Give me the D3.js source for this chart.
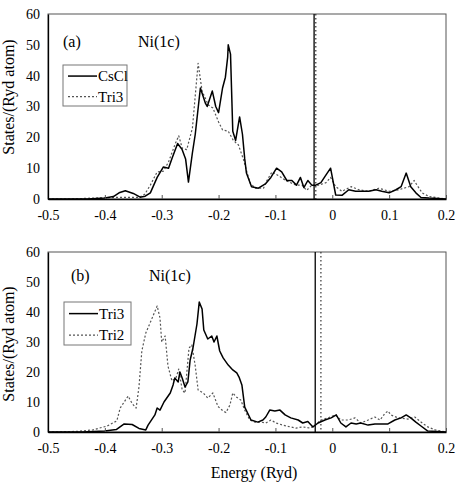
<!DOCTYPE html>
<html>
<head>
<meta charset="utf-8">
<script src="https://cdn.jsdelivr.net/npm/d3@7"></script>
<style>
  body { margin: 0; background: #fff; }
  svg text { font-family: "Liberation Serif", "Times New Roman", "DejaVu Serif", serif !important; fill: #000; }
</style>
</head>
<body>
<div id="chart-area"></div>
<script>
// tick labels
const energyTicks = [-0.5, -0.4, -0.3, -0.2, -0.1, 0, 0.1, 0.2]
const stateTicks = [0, 10, 20, 30, 40, 50, 60]

// (a) Ni(1c): [energy, states]
const csclA = [[-0.5,0],[-0.43,0],[-0.40,0.3],[-0.385,0.8],[-0.375,2],[-0.364,2.7],[-0.35,1.8],[-0.338,0.6],
  [-0.329,0.9],[-0.320,2],[-0.308,7],[-0.297,10.4],[-0.288,10],[-0.281,13.6],[-0.272,18],[-0.264,16],[-0.258,13],
  [-0.253,5.5],[-0.246,15],[-0.241,21],[-0.232,36],[-0.223,31],[-0.220,30],[-0.211,35],[-0.205,30],[-0.200,28],
  [-0.193,36],[-0.188,39.5],[-0.184,46],[-0.183,50],[-0.179,47],[-0.175,22],[-0.170,19],[-0.163,26.6],[-0.158,21],
  [-0.154,13],[-0.151,8.4],[-0.142,4],[-0.130,3.5],[-0.117,5],[-0.108,7],[-0.098,10],[-0.089,8.8],[-0.080,6],
  [-0.071,6],[-0.063,4.5],[-0.056,7],[-0.050,3.7],[-0.043,6],[-0.036,4.5],[-0.029,4.5],[-0.020,5.3],[-0.011,7.8],
  [-0.003,10],[0.006,1.3],[0.017,1.2],[0.029,3],[0.041,2.5],[0.052,2.5],[0.064,2.5],[0.077,3],[0.087,2.5],
  [0.100,2],[0.112,3],[0.121,4],[0.130,8.4],[0.138,4],[0.147,2],[0.156,0.5],[0.170,0.3],[0.2,0]]
const tri3A = [[-0.5,0],[-0.45,0.1],[-0.42,0.3],[-0.38,0.5],[-0.34,0.5],[-0.33,1.5],[-0.320,4.5],[-0.308,8.8],
  [-0.297,9],[-0.288,12],[-0.276,18],[-0.270,20.5],[-0.264,16.5],[-0.256,16],[-0.246,23],[-0.236,44],[-0.229,35],
  [-0.218,30.5],[-0.210,29.5],[-0.200,25],[-0.193,22.4],[-0.183,22],[-0.174,19],[-0.165,17.5],[-0.156,12.7],
  [-0.149,8],[-0.144,5],[-0.135,3.5],[-0.121,3.5],[-0.115,6],[-0.106,8.8],[-0.094,7.5],[-0.082,6],[-0.064,4.5],
  [-0.053,4.5],[-0.045,2.8],[-0.036,4.5],[-0.024,4.5],[-0.011,5.3],[-0.003,7],[0.006,4],[0.017,2.5],[0.033,4],
  [0.047,3],[0.064,2.5],[0.082,3.5],[0.100,2.5],[0.117,3],[0.135,4],[0.144,6],[0.149,4.5],[0.158,2],[0.170,0.8],[0.2,0]]

// (b) Ni(1c)
const tri3B = [[-0.5,0],[-0.44,0],[-0.40,0.3],[-0.38,0.8],[-0.366,2.7],[-0.352,2.5],[-0.340,1.2],[-0.328,0.7],
  [-0.324,2.3],[-0.312,5.7],[-0.308,8],[-0.303,7.3],[-0.296,10],[-0.285,13],[-0.280,15.7],[-0.277,18],[-0.271,16.7],
  [-0.268,20],[-0.264,18],[-0.259,15],[-0.254,16.7],[-0.250,24],[-0.245,28],[-0.238,36],[-0.234,43.3],[-0.229,41],
  [-0.226,34],[-0.219,31],[-0.212,32],[-0.208,30],[-0.203,32],[-0.198,27],[-0.192,24.7],[-0.183,22.3],[-0.175,20.7],
  [-0.168,19.7],[-0.164,18.3],[-0.159,15.7],[-0.154,8.3],[-0.143,4],[-0.131,3.3],[-0.122,4],[-0.117,5],[-0.110,7.3],
  [-0.101,7],[-0.092,7.3],[-0.083,5.7],[-0.073,4.7],[-0.060,4],[-0.052,3],[-0.043,3.5],[-0.034,1.7],[-0.025,3],
  [-0.013,4],[-0.002,4.7],[0.007,5.7],[0.015,3],[0.024,1.7],[0.033,3],[0.042,2.7],[0.050,3],[0.063,2.3],[0.075,2.7],
  [0.086,2.7],[0.098,2.7],[0.110,4],[0.121,4.7],[0.130,5.7],[0.138,4.7],[0.147,3.3],[0.156,2],[0.168,0.3],[0.2,0]]
const tri2B = [[-0.5,0],[-0.449,0.2],[-0.421,0.7],[-0.396,2],[-0.379,3.7],[-0.373,8],[-0.366,10],[-0.359,12],
  [-0.352,9.5],[-0.345,8],[-0.340,15],[-0.335,27],[-0.328,33],[-0.319,37],[-0.308,42],[-0.303,38],[-0.300,30],
  [-0.294,32],[-0.289,22],[-0.282,17],[-0.275,18],[-0.270,21],[-0.264,14],[-0.259,13],[-0.252,28],[-0.247,29],
  [-0.241,22],[-0.236,14],[-0.227,13],[-0.219,11.3],[-0.210,13],[-0.201,8.5],[-0.192,7],[-0.187,6.5],[-0.180,9],
  [-0.175,13],[-0.169,11.7],[-0.161,10.7],[-0.154,7.3],[-0.145,4],[-0.136,3.3],[-0.125,3.3],[-0.117,3],[-0.108,4],
  [-0.099,3],[-0.087,2.3],[-0.074,1.7],[-0.064,1.3],[-0.052,1.7],[-0.039,1.3],[-0.030,2.3],[-0.020,4],[-0.008,4.7],
  [0.005,5.7],[0.015,4],[0.028,4],[0.040,4.7],[0.050,3],[0.063,4],[0.075,5],[0.084,4],[0.093,6.3],[0.098,7],
  [0.103,5.7],[0.116,4.7],[0.133,4.3],[0.145,5],[0.156,3.3],[0.168,1.7],[0.181,0.7],[0.2,0]]

// Fermi levels [solid, dotted]
const fermiA = [-0.032, -0.029]
const fermiB = [-0.030, -0.020]

const LEFT = 48, RIGHT = 446
const FONT = '"Liberation Serif", "Times New Roman", "DejaVu Serif", serif'

const panels = [
  { top: 14, bottom: 199, tag: "(a)", tagX: 63, titleX: 138, labelY: 47,
    series: [{ name: "CsCl", data: csclA }, { name: "Tri3", data: tri3A, dotted: true }],
    fermi: fermiA, legend: { x: 63, y: 65, w: 64, h: 41 }, yTitle: 97 },
  { top: 252, bottom: 432, tag: "(b)", tagX: 71, titleX: 149, labelY: 281,
    series: [{ name: "Tri3", data: tri3B }, { name: "Tri2", data: tri2B, dotted: true }],
    fermi: fermiB, legend: { x: 64, y: 302, w: 67, h: 43 }, yTitle: 344 }
]

const svg = d3.select("#chart-area").append("svg")
  .attr("width", 456)
  .attr("height", 484)
  .style("font-family", FONT)

const x = d3.scaleLinear().domain([-0.5, 0.2]).range([LEFT, RIGHT])

panels.forEach(p => {
  const y = d3.scaleLinear().domain([0, 60]).range([p.bottom, p.top])
  const g = svg.append("g")

  // frame
  g.append("rect")
    .attr("x", LEFT).attr("y", p.top)
    .attr("width", RIGHT - LEFT).attr("height", p.bottom - p.top)
    .attr("fill", "none").attr("stroke", "#555").attr("stroke-width", 1)

  // Fermi level lines
  p.fermi.forEach((e, i) => {
    g.append("line")
      .attr("x1", x(e)).attr("x2", x(e))
      .attr("y1", p.top).attr("y2", p.bottom)
      .attr("stroke", i ? "#333" : "#000")
      .attr("stroke-width", i ? 1.2 : 1.3)
      .attr("stroke-dasharray", i ? "1.5,2.5" : null)
  })

  const line = d3.line().x(d => x(d[0])).y(d => y(d[1]))

  // draw dotted first so the solid sits on top
  p.series.slice().reverse().forEach(s => {
    g.append("path")
      .datum(s.data)
      .attr("fill", "none")
      .attr("stroke", s.dotted ? "#555" : "#000")
      .attr("stroke-width", s.dotted ? 1.2 : 1.5)
      .attr("stroke-dasharray", s.dotted ? "2,2" : null)
      .attr("stroke-linejoin", "round")
      .attr("d", line)
  })

  // axes
  const xAxis = g.append("g")
    .attr("transform", `translate(0, ${p.bottom})`)
    .call(d3.axisBottom(x).tickValues(energyTicks)
      .tickSizeInner(-4).tickSizeOuter(0).tickPadding(11)
      .tickFormat(d => d === 0 ? "0" : d.toFixed(1)))
  xAxis.attr("font-family", FONT)
  xAxis.select(".domain").attr("stroke", "#000").attr("stroke-width", 1.3)
  xAxis.selectAll("line").attr("stroke", "#555")
  xAxis.selectAll("text").attr("font-size", "14px")

  const yAxis = g.append("g")
    .attr("transform", `translate(${LEFT}, 0)`)
    .call(d3.axisLeft(y).tickValues(stateTicks).tickSize(0).tickPadding(8))
  yAxis.attr("font-family", FONT)
  yAxis.select(".domain").attr("stroke", "#000").attr("stroke-width", 1.3)
  yAxis.selectAll("text").attr("font-size", "14px")

  // panel labels
  g.append("text").attr("x", p.tagX).attr("y", p.labelY)
    .attr("font-size", "16px").text(p.tag)
  g.append("text").attr("x", p.titleX).attr("y", p.labelY)
    .attr("font-size", "16px").text("Ni(1c)")

  // y title
  g.append("text")
    .attr("transform", `translate(14, ${p.yTitle}) rotate(-90)`)
    .attr("text-anchor", "middle")
    .attr("font-size", "16px")
    .text("States/(Ryd atom)")

  // legend
  const L = p.legend
  const lg = g.append("g")
  lg.append("rect")
    .attr("x", L.x).attr("y", L.y).attr("width", L.w).attr("height", L.h)
    .attr("fill", "#fff").attr("stroke", "#777").attr("stroke-width", 1)
  p.series.forEach((s, i) => {
    const ry = L.y + L.h * (i === 0 ? 0.27 : 0.77)
    lg.append("line")
      .attr("x1", L.x + 5).attr("x2", L.x + 34)
      .attr("y1", ry).attr("y2", ry)
      .attr("stroke", s.dotted ? "#555" : "#000")
      .attr("stroke-width", s.dotted ? 1.2 : 1.5)
      .attr("stroke-dasharray", s.dotted ? "2,2" : null)
    lg.append("text")
      .attr("x", L.x + 35).attr("y", ry + 5)
      .attr("font-size", "15px")
      .text(s.name)
  })
})

// x title
svg.append("text")
  .attr("x", 254).attr("y", 478)
  .attr("text-anchor", "middle")
  .attr("font-size", "16px")
  .text("Energy (Ryd)")
</script>
</body>
</html>
